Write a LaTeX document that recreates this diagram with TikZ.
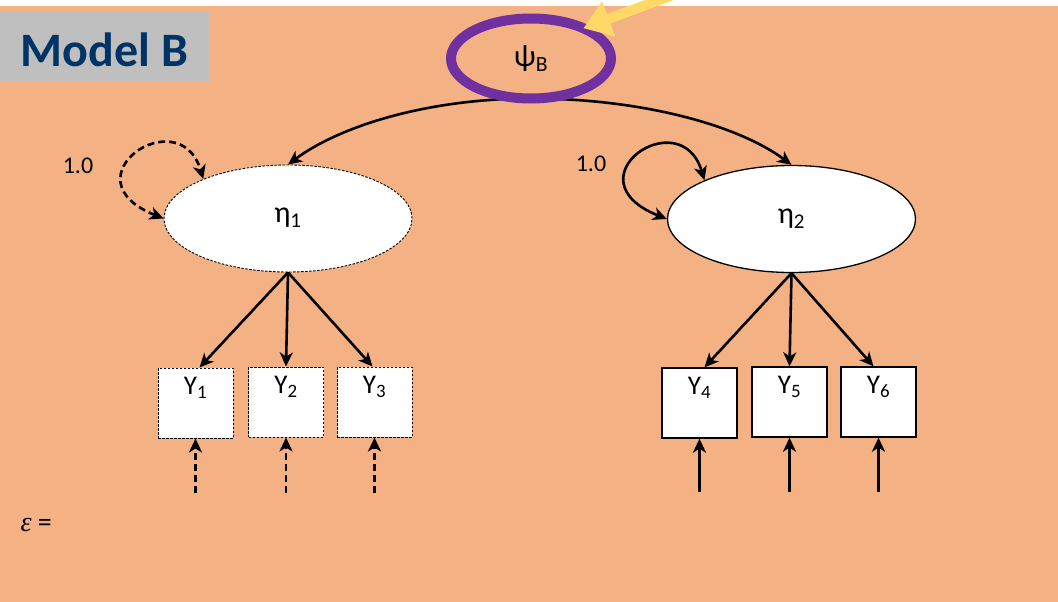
\documentclass[tikz,border=0pt]{standalone}
\usepackage{fontspec}
\setmainfont{Carlito}
\newfontfamily\epsfont{Liberation Serif}
\usetikzlibrary{arrows.meta,calc,shapes.geometric}
\definecolor{bgorange}{HTML}{F4B183}
\definecolor{tagrey}{HTML}{BFBFBF}
\definecolor{tagnavy}{HTML}{003366}
\definecolor{ringpurple}{HTML}{7030A0}
\definecolor{hiyellow}{HTML}{FFD966}
\pgfdeclarelayer{bglayer}
\pgfdeclarelayer{connlayer}
\pgfsetlayers{bglayer,connlayer,main}
\tikzset{
  headtip/.style={-{Stealth[length=14pt,width=13pt,inset=4pt]}},
  twotip/.style={{Stealth[length=14pt,width=13pt,inset=4pt]}-{Stealth[length=14pt,width=13pt,inset=4pt]}},
  conn/.style={line width=2.6pt, headtip},
  dashconn/.style={conn, dash pattern=on 7pt off 4pt},
  latent/.style={ellipse, fill=white, draw=black, minimum width=248pt, minimum height=107pt, inner sep=0pt, font=\fontsize{30}{34}\selectfont},
  latentdash/.style={latent, line width=0.9pt, dash pattern=on 2.5pt off 1.5pt},
  latentsolid/.style={latent, line width=1.3pt},
  obsbox/.style={rectangle, fill=white, draw=black, minimum width=75pt, minimum height=70pt, inner sep=0pt},
  obsdash/.style={obsbox, line width=1pt, dash pattern=on 2.5pt off 1.5pt},
  obssolid/.style={obsbox, line width=1.3pt},
  obslabel/.style={font=\fontsize{27}{30}\selectfont},
  loadlabel/.style={font=\fontsize{24}{28}\selectfont},
}
\begin{document}
\begin{tikzpicture}[x=1pt,y=-1pt]
\clip (0,0) rectangle (1058,602);
\begin{pgfonlayer}{bglayer}
\fill[white] (0,0) rectangle (1058,602);
\fill[bgorange] (0,6) rectangle (1058,602);
\end{pgfonlayer}

% title tag
\node[fill=tagrey, minimum width=209pt, minimum height=69pt, inner sep=0pt] (tag) at (104.5,46.5) {};
\node[anchor=base, text=tagnavy, font=\fontsize{48}{56}\selectfont\bfseries] (title) at (104.5,66.5) {Model B};

% psi
\node[ellipse, draw=ringpurple, line width=10pt, minimum width=160pt, minimum height=80pt, inner sep=0pt, outer sep=0pt, font=\fontsize{31}{34}\selectfont] (psi) at (531,58.5) {ψ\textsubscript{B}};

% latent variables
\node[latentdash] (eta1) at (288,218.5) {\raisebox{6pt}{η\textsubscript{1}}};
\node[latentsolid] (eta2) at (791.5,219) {\raisebox{6pt}{η\textsubscript{2}}};

% observed
\node[obsdash] (y1) at (195.5,403) {};
\node[obsdash] (y2) at (286,402) {};
\node[obsdash] (y3) at (374.5,402) {};
\node[obssolid] (y4) at (699.5,403) {};
\node[obssolid] (y5) at (789.5,402) {};
\node[obssolid] (y6) at (878.5,402) {};
\foreach \b/\t in {y1/1,y2/2,y3/3,y4/4,y5/5,y6/6}{
  \node[obslabel, anchor=north, yshift=-6.5pt] (l\b) at (\b.north) {Y\textsubscript{\t}};
}

% free ends of residual arrows
\coordinate (e1) at (195.5,493);
\coordinate (e2) at (286,493);
\coordinate (e3) at (374.5,493);
\coordinate (e4) at (699.5,492);
\coordinate (e5) at (789.5,492);
\coordinate (e6) at (878.5,492);

% labels
\node[loadlabel] (v1) at (78,166) {1.0};
\node[loadlabel] (v2) at (591,164) {1.0};
\node[font=\fontsize{28}{32}\selectfont, anchor=west] (epslab) at (17,525) {{\epsfont\itshape ε} =};

% connectors from psi
\begin{pgfonlayer}{connlayer}
\draw[conn] (psi.south) .. controls +(-100,0) and +(54,-40) .. (eta1.north);
\draw[conn] (psi.south) .. controls +(110,0) and +(-54,-40) .. (eta2.north);
\end{pgfonlayer}

% variance loops
\draw[twotip, line width=2.6pt, dash pattern=on 7pt off 4pt] (eta1.west) .. controls +(-100,-40) and +(-24,-80) .. (eta1.155);
\draw[twotip, line width=2.6pt] (eta2.west) .. controls +(-100,-40) and +(-24,-80) .. (eta2.156);

% loadings
\draw[conn] (eta1.south) -- ($(y1.north)+(4,0)$);
\draw[conn] (eta1.south) -- (y2.north);
\draw[conn] (eta1.south) -- ($(y3.north)+(-2,0)$);
\draw[conn] (eta2.south) -- ($(y4.north)+(5,0)$);
\draw[conn] (eta2.south) -- (y5.north);
\draw[conn] (eta2.south) -- ($(y6.north)+(-5,0)$);

% residuals
\draw[dashconn] (e1) -- (y1.south);
\draw[dashconn] (e2) -- (y2.south);
\draw[dashconn] (e3) -- (y3.south);
\draw[conn] (e4) -- (y4.south);
\draw[conn] (e5) -- (y5.south);
\draw[conn] (e6) -- (y6.south);

% highlight arrow
\coordinate (hlstart) at (705,-17);
\draw[hiyellow, line width=10pt, -{Triangle[length=27pt,width=36pt]}] (hlstart) -- (psi.30);
\end{tikzpicture}
\end{document}
